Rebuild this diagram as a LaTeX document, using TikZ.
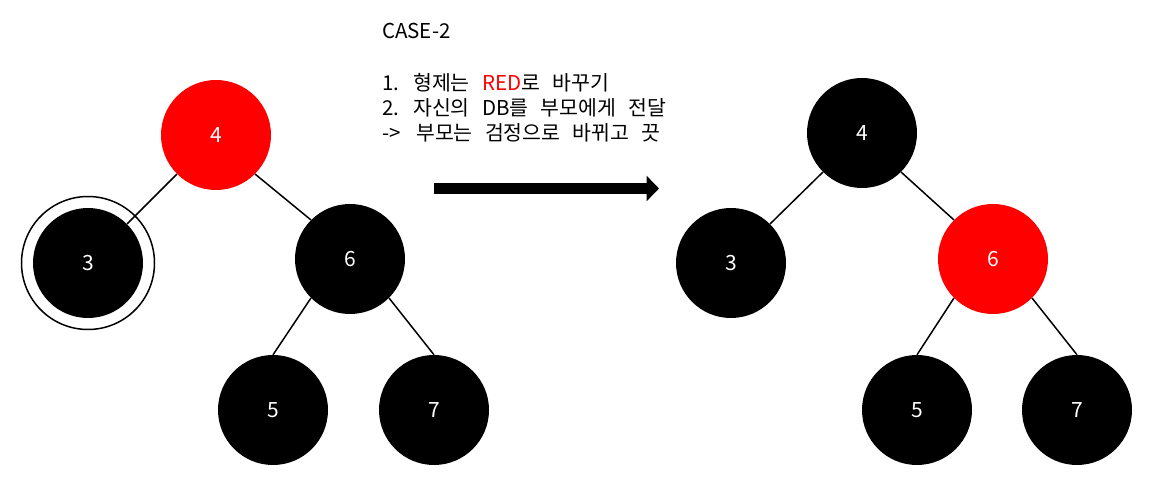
\documentclass[tikz,border=0pt]{standalone}
\usepackage{fontspec}
\setmainfont{Noto Sans CJK KR}
\usetikzlibrary{arrows.meta}
\definecolor{nodered}{RGB}{255,0,0}
\tikzset{
  rb/.style={circle, minimum size=110pt, inner sep=0pt, text=white,
    font=\fontsize{21}{21}\selectfont},
  blk/.style={rb, fill=black},
  red/.style={rb, fill=nodered},
  edge/.style={line width=1.5pt, black},
  txt/.style={anchor=base west, inner sep=0pt, font=\fontsize{20.5}{20.5}\selectfont},
}
\newcommand{\wsp}{\spaceskip=0.6em plus 0.1em}
\begin{document}
\begin{tikzpicture}[x=1pt, y=-1pt]
\useasboundingbox (0,0) rectangle (1152,494);
% left tree
\node[red] (L4) at (216,135) {4};
\node[blk] (L3) at (88,263) {3};
\draw[line width=1.5pt] (L3) circle (66.5pt);
\node[blk] (L6) at (350,259) {6};
\node[blk] (L5) at (273,410) {5};
\node[blk] (L7) at (434,410) {7};
\draw[edge] (L4.south west) -- (L3.north east);
\draw[edge] (L4.south east) -- (L6.north west);
\draw[edge] (L6.south west) -- (L5.north);
\draw[edge] (L6.south east) -- (L7.north);
% right tree
\node[blk] (R4) at (862,133) {4};
\node[blk] (R3) at (731,263) {3};
\node[red] (R6) at (993,259) {6};
\node[blk] (R5) at (917,410) {5};
\node[blk] (R7) at (1077,410) {7};
\draw[edge] (R4.south west) -- (R3.north east);
\draw[edge] (R4.south east) -- (R6.north west);
\draw[edge] (R6.south west) -- (R5.north);
\draw[edge] (R6.south east) -- (R7.north);
% arrow
\coordinate (aS) at (434,188.5);
\coordinate (aE) at (659,188.5);
\draw[line width=11.6pt, -{Triangle[length=12.5pt, width=25pt]}] (aS) -- (aE);
% text
\node[txt] (t0) at (382,38.5) {CASE-2};
\node[txt] (t1) at (382,91) {\wsp\makebox[31pt][l]{1.}형제는 {\color{nodered}RED}로 바꾸기};
\node[txt] (t2) at (382,116) {\wsp\makebox[31pt][l]{2.}자신의 DB를 부모에게 전달};
\node[txt] (t3) at (382,141) {\wsp\makebox[34pt][l]{->}부모는 검정으로 바뀌고 끗};
\end{tikzpicture}
\end{document}
